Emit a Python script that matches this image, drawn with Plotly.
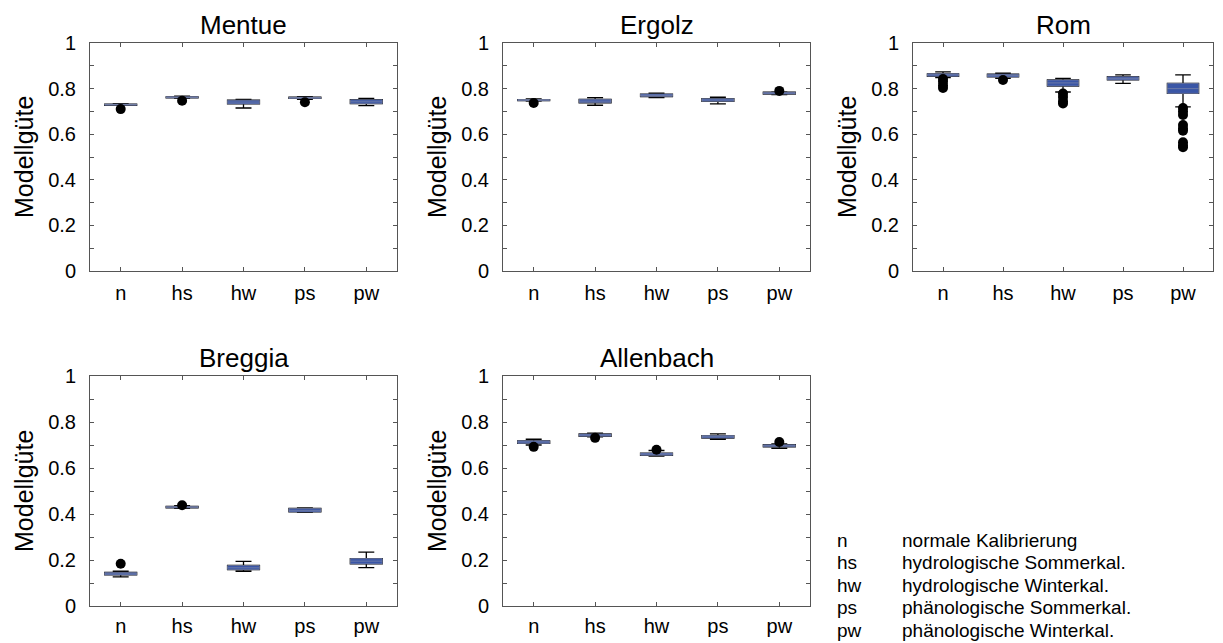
import plotly.graph_objects as go

categories = ["n", "hs", "hw", "ps", "pw"]
panels = ["Mentue", "Ergolz", "Rom", "Breggia", "Allenbach"]

# per-panel box statistics: lower whisker, q1, median, q3, upper whisker
mentue_lo  = [0.726, 0.757, 0.715, 0.753, 0.725]
mentue_q1  = [0.727, 0.759, 0.733, 0.757, 0.734]
mentue_med = [0.730, 0.762, 0.741, 0.760, 0.742]
mentue_q3  = [0.732, 0.764, 0.749, 0.762, 0.751]
mentue_hi  = [0.734, 0.767, 0.753, 0.765, 0.757]
mentue_out_x = ["n", "hs", "ps"]
mentue_out_y = [0.710, 0.747, 0.740]

ergolz_lo  = [0.745, 0.727, 0.760, 0.733, 0.774]
ergolz_q1  = [0.747, 0.738, 0.765, 0.744, 0.776]
ergolz_med = [0.750, 0.745, 0.770, 0.750, 0.781]
ergolz_q3  = [0.752, 0.753, 0.776, 0.756, 0.784]
ergolz_hi  = [0.755, 0.760, 0.780, 0.762, 0.786]
ergolz_out_x = ["n", "pw"]
ergolz_out_y = [0.737, 0.790]

rom_lo  = [0.848, 0.845, 0.785, 0.823, 0.720]
rom_q1  = [0.854, 0.851, 0.811, 0.838, 0.779]
rom_med = [0.860, 0.858, 0.825, 0.845, 0.800]
rom_q3  = [0.865, 0.863, 0.838, 0.852, 0.823]
rom_hi  = [0.873, 0.868, 0.845, 0.860, 0.860]
rom_out_x = ["n", "n", "n", "n", "hs", "hw", "hw", "hw", "hw",
             "pw", "pw", "pw", "pw", "pw", "pw", "pw", "pw", "pw"]
rom_out_y = [0.842, 0.830, 0.815, 0.803, 0.838, 0.778, 0.763, 0.745, 0.735,
             0.715, 0.700, 0.684, 0.640, 0.625, 0.615, 0.565, 0.550, 0.543]

breggia_lo  = [0.127, 0.425, 0.151, 0.407, 0.167]
breggia_q1  = [0.135, 0.427, 0.158, 0.409, 0.183]
breggia_med = [0.140, 0.430, 0.166, 0.416, 0.195]
breggia_q3  = [0.146, 0.433, 0.176, 0.424, 0.206]
breggia_hi  = [0.151, 0.436, 0.194, 0.426, 0.234]
breggia_out_x = ["n", "hs"]
breggia_out_y = [0.184, 0.438]

allen_lo  = [0.700, 0.735, 0.652, 0.725, 0.685]
allen_q1  = [0.707, 0.738, 0.655, 0.730, 0.692]
allen_med = [0.713, 0.743, 0.660, 0.736, 0.697]
allen_q3  = [0.718, 0.748, 0.665, 0.741, 0.701]
allen_hi  = [0.725, 0.751, 0.676, 0.748, 0.705]
allen_out_x = ["n", "hs", "hw", "pw"]
allen_out_y = [0.692, 0.731, 0.679, 0.713]

legend_keys = ["n", "hs", "hw", "ps", "pw"]
legend_texts = ["normale Kalibrierung", "hydrologische Sommerkal.",
                "hydrologische Winterkal.", "phänologische Sommerkal.",
                "phänologische Winterkal."]

y_ticks = [0, 0.2, 0.4, 0.6, 0.8, 1]
y_tick_labels = ["0", "0.2", "0.4", "0.6", "0.8", "1"]
y_title = "Modellgüte"

data = [
    (mentue_lo, mentue_q1, mentue_med, mentue_q3, mentue_hi, mentue_out_x, mentue_out_y),
    (ergolz_lo, ergolz_q1, ergolz_med, ergolz_q3, ergolz_hi, ergolz_out_x, ergolz_out_y),
    (rom_lo, rom_q1, rom_med, rom_q3, rom_hi, rom_out_x, rom_out_y),
    (breggia_lo, breggia_q1, breggia_med, breggia_q3, breggia_hi, breggia_out_x, breggia_out_y),
    (allen_lo, allen_q1, allen_med, allen_q3, allen_hi, allen_out_x, allen_out_y),
]

W, H = 1223, 643
# axes pixel boxes (left, right, top, bottom)
boxes = [(90, 397, 43, 271), (503, 810, 43, 271), (913, 1213, 43, 271),
         (90, 397, 376, 606), (503, 810, 376, 606)]

FONT = "Liberation Sans, Arial, sans-serif"
BLUE = "#3a56a6"

fig = go.Figure()
layout = dict(width=W, height=H, margin=dict(l=0, r=0, t=0, b=0, autoexpand=False),
              paper_bgcolor="white", plot_bgcolor="white", showlegend=False,
              font=dict(family=FONT, color="black"))
annotations = []

for i, (name, (lo, q1, med, q3, hi, ox, oy), (l, r, t, b)) in enumerate(zip(panels, data, boxes)):
    n = i + 1
    xa = "x" if n == 1 else f"x{n}"
    ya = "y" if n == 1 else f"y{n}"
    # whiskers (black)
    fig.add_trace(go.Box(x=categories, q1=q1, median=med, q3=q3,
                         lowerfence=lo, upperfence=hi,
                         fillcolor=BLUE, line=dict(color="black", width=1.3),
                         width=0.52, whiskerwidth=0.5, boxpoints=False,
                         xaxis=xa, yaxis=ya, hoverinfo="skip"))
    # box body on top (thin light outline)
    fig.add_trace(go.Box(x=categories, q1=q1, median=med, q3=q3,
                         lowerfence=q1, upperfence=q3,
                         fillcolor=BLUE, line=dict(color="#8088a8", width=0.7),
                         width=0.52, whiskerwidth=0, boxpoints=False,
                         xaxis=xa, yaxis=ya, hoverinfo="skip"))
    fig.add_trace(go.Scatter(x=ox, y=oy, mode="markers",
                             marker=dict(color="black", size=10),
                             xaxis=xa, yaxis=ya, hoverinfo="skip"))

    xkey = "xaxis" if n == 1 else f"xaxis{n}"
    ykey = "yaxis" if n == 1 else f"yaxis{n}"
    layout[xkey] = dict(domain=[l / W, r / W], anchor=ya, automargin=False,
                        type="category", categoryorder="array", categoryarray=categories,
                        range=[-0.5, 4.5], showgrid=False, zeroline=False,
                        showline=True, linecolor="#555", linewidth=1, mirror="ticks",
                        ticks="inside", ticklen=4, tickcolor="#555",
                        ticklabelstandoff=4 if n <= 3 else 2,
                        tickfont=dict(size=20, family=FONT, color="black"))
    layout[ykey] = dict(domain=[1 - b / H, 1 - t / H], anchor=xa, automargin=False,
                        range=[0, 1], tickvals=y_ticks, ticktext=y_tick_labels,
                        showgrid=False, zeroline=False,
                        showline=True, linecolor="#555", linewidth=1, mirror="ticks",
                        ticks="inside", ticklen=4, tickcolor="#555",
                        minor=dict(dtick=0.1, ticks="inside", ticklen=4, tickcolor="#555",
                                   showgrid=False),
                        ticklabelstandoff=9,
                        tickfont=dict(size=20, family=FONT, color="black"))
    annotations.append(dict(text=name, x=(l + r) / 2 / W, y=1 - (t - 1) / H,
                            xref="paper", yref="paper", xanchor="center", yanchor="bottom",
                            showarrow=False, font=dict(size=26, family=FONT, color="black")))
    annotations.append(dict(text=y_title, x=(l - 66) / W, y=1 - (t + b) / 2 / H,
                            xref="paper", yref="paper", xanchor="center", yanchor="middle",
                            textangle=-90, showarrow=False,
                            font=dict(size=25, family=FONT, color="black")))

for k, (key, txt) in enumerate(zip(legend_keys, legend_texts)):
    ypx = 540 + k * 22.5
    annotations.append(dict(text=key, x=835 / W, y=1 - ypx / H, xref="paper", yref="paper",
                            xanchor="left", yanchor="middle", showarrow=False,
                            font=dict(size=19, family=FONT, color="black")))
    annotations.append(dict(text=txt, x=900 / W, y=1 - ypx / H, xref="paper", yref="paper",
                            xanchor="left", yanchor="middle", showarrow=False,
                            font=dict(size=19, family=FONT, color="black")))

layout["annotations"] = annotations
fig.update_layout(**layout)
fig.write_html("out.html")
